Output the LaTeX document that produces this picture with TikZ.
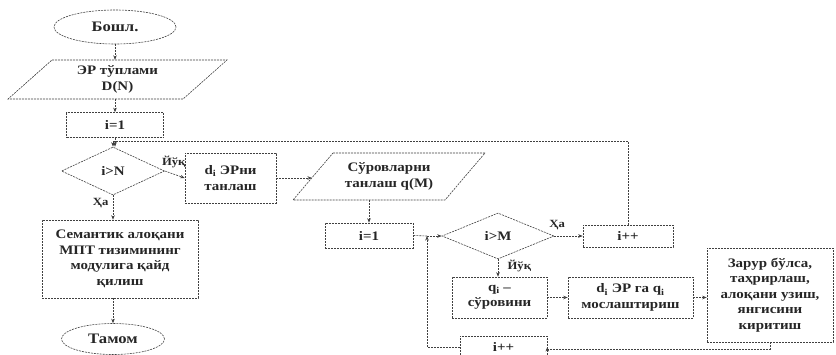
\documentclass[tikz,border=0pt]{standalone}
\usepackage{fontspec}
\setmainfont{Liberation Serif}[FakeStretch=1.15]
\usetikzlibrary{shapes.geometric,arrows.meta}
\begin{document}
\begin{tikzpicture}[x=1pt,y=-1pt,
  ln/.style={draw=black!75, line width=0.6pt, dash pattern=on 2pt off 1pt},
  arr/.style={ln, -{Stealth[length=4.5pt,width=3.5pt]}},
  txt/.style={align=center, text=black!85, font=\bfseries\fontsize{13}{15.5}\selectfont},
  bx/.style={ln, rectangle, inner sep=1pt, txt},
  ov/.style={ln, ellipse, inner sep=0pt, txt, font=\bfseries\fontsize{14.5}{16}\selectfont},
  dm/.style={ln, diamond, inner sep=0pt, txt},
  lb/.style={text=black!85, font=\bfseries\fontsize{11}{13}\selectfont}
]
\clip (0,0) rectangle (836,354);
\fill[white] (0,0) rectangle (836,354);

% left column
\node[ov, minimum width=122pt, minimum height=34pt] (start) at (115,27) {Бошл.};
\node[txt, minimum width=130pt, minimum height=39pt] (inp) at (117.5,79.5) {ЭР тўплами\\D(N)};
\draw[ln] (52,60) -- (227,60) -- (183,99) -- (8,99) -- cycle;
\node[bx, minimum width=97pt, minimum height=25pt] (i1) at (115,125) {i=1};
\node[dm, minimum width=103pt, minimum height=48pt] (dN) at (113,171) {i>N};
\node[bx, minimum width=91pt, minimum height=50pt] (dsel) at (230.5,178) {d\textsubscript{i} ЭРни\\танлаш};
\node[bx, minimum width=156pt, minimum height=78pt] (sem) at (120,259) {Семантик алоқани\\МПТ тизимининг\\модулига қайд\\қилиш};
\node[ov, minimum width=103pt, minimum height=31pt] (end) at (113,339) {Тамом};

% right part
\node[txt, minimum width=120pt, minimum height=47pt] (inp2) at (389,176.5) {Сўровларни\\танлаш q(M)};
\draw[ln] (333,153) -- (485,153) -- (445,200) -- (293,200) -- cycle;
\coordinate (inp2w) at (312,178);
\node[bx, minimum width=88pt, minimum height=25pt] (i1b) at (369,235.5) {i=1};
\coordinate (J) at (427,236);
\node[dm, minimum width=112pt, minimum height=46pt] (dM) at (498,236) {i>M};
\node[bx, minimum width=90pt, minimum height=22pt] (ipp1) at (628,236) {i++};
\node[bx, minimum width=95pt, minimum height=41pt] (qi) at (499.5,297.5) {q\textsubscript{i} –\\сўровини};
\node[bx, minimum width=125pt, minimum height=41pt] (match) at (630.5,297.5) {d\textsubscript{i} ЭР га q\textsubscript{i}\\мослаштириш};
\node[bx, minimum width=126pt, minimum height=94pt] (edit) at (770,295) {Зарур бўлса,\\таҳрирлаш,\\алоқани узиш,\\янгисини\\киритиш};
\node[bx, minimum width=87pt, minimum height=22pt] (ipp2) at (503.5,347) {i++};
\coordinate (T) at (628,141);

% connectors
\draw[arr] (start) -- (start |- inp.north);
\draw[arr] (inp.south -| i1) -- (i1);
\draw[arr] (i1) -- (dN.north -| i1);
\draw[arr] (dN.east) -- (dsel.west) node[lb, pos=0.45, above=3pt] {Йўқ};
\draw[arr] (dN.south) -- (dN.south |- sem.north) node[lb, pos=0.3, left=1pt] {Ҳа};
\draw[arr] (sem.south -| end) -- (end);
\draw[arr] (dsel.east) -- (inp2w);
\draw[arr] (inp2.south -| i1b) -- (i1b);
\draw[ln] (i1b.east) -- (J);
\draw[arr] (ipp2.west) -| (J);
\draw[arr] (J) -- (dM.west);
\draw[arr] (dM.east) -- (ipp1.west) node[lb, pos=0.1, above=3pt] {Ҳа};
\draw[arr] (dM.south) -- (dM.south |- qi.north) node[lb, pos=0.4, right=6pt] {Йўқ};
\draw[arr] (qi.east) -- (match.west);
\draw[arr] (match.east) -- (edit.west |- match.east);
\draw[arr] (edit.south) -- ++(0,7) -| (ipp2.east);
\draw[arr] (ipp1.north) -- (T) -| (dN.north);
\end{tikzpicture}
\end{document}
